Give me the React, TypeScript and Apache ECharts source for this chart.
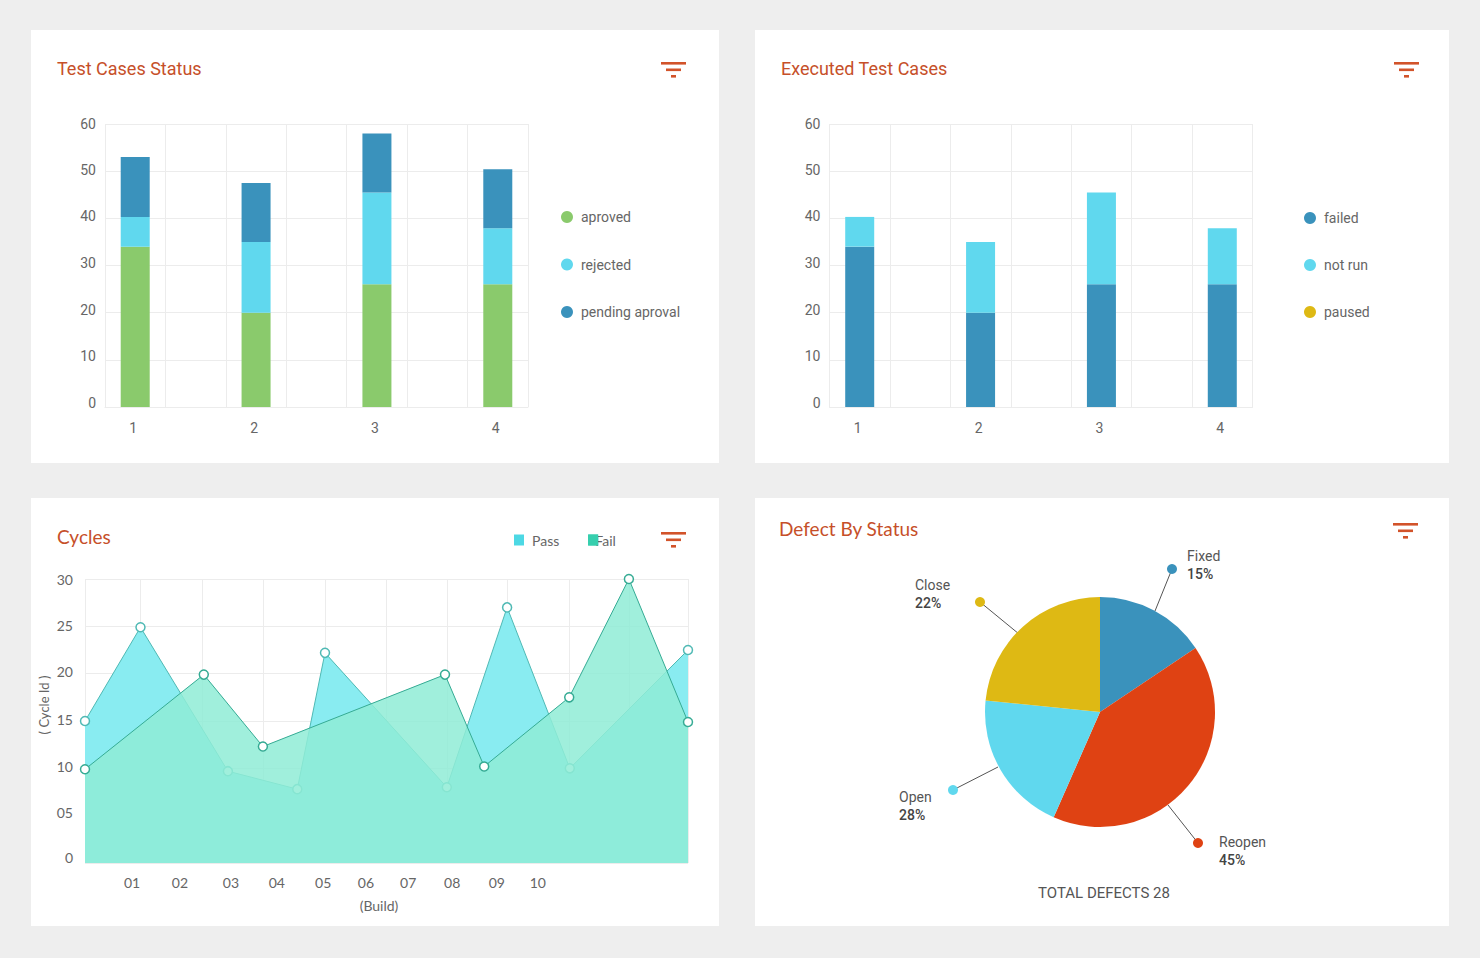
import React, { useEffect, useRef } from "react";
import * as echarts from "echarts";

const barCategories = ["1", "", "2", "", "3", "", "4"];
const approved = [34, 20, 26, 26];
const rejected = [6.3, 15, 19.5, 11.9];
const pendingApproval = [12.7, 12.5, 12.5, 12.5];
const failed = [34, 20, 26, 26];
const notRun = [6.3, 15, 19.5, 11.9];
const paused: number[] = [];

const passBuilds = [0, 0.92, 2.37, 3.52, 3.98, 6.0, 7.0, 8.04, 10];
const passCycles = [15, 24.9, 9.7, 7.8, 22.2, 8, 27, 10, 22.5];
const failBuilds = [0, 1.97, 2.95, 5.97, 6.62, 8.03, 9.02, 10];
const failCycles = [9.9, 19.9, 12.3, 19.9, 10.2, 17.5, 30, 14.9];
const buildLabels = ["01", "02", "03", "04", "05", "06", "07", "08", "09", "10"];

const defectNames = ["Fixed", "Reopen", "Open", "Close"];
const defectShares = [15.6, 41, 20, 23.4];
const defectLabels = ["15%", "45%", "28%", "22%"];

// Label and gridline placement along the axes (layout, not data)
const buildLabelPlaces = [0.78, 1.575, 2.42, 3.18, 3.95, 4.66, 5.36, 6.09, 6.83, 7.51];
const buildGridPlaces = [0, 0.92, 1.95, 2.96, 3.98, 5, 6, 7, 8.03, 9.03, 10];
const barYLabelPlaces = [0.85, 10.8, 20.6, 30.5, 40.5, 50.2, 60];
const cycleYLabelPlaces = [0.53, 5.3, 10.2, 15.2, 20.2, 25.1, 30];

const BLUE = "#3a92bc";
const CYAN = "#60d8ee";
const GREEN = "#8aca6c";
const YELLOW = "#deb914";
const RED = "#df4213";
const TITLE = "#c64f29";
const TEXT = "#666666";
const GRIDLINE = "#ececec";

const spaced = (values: number[]) =>
  values.flatMap((v, i) => (i ? [null, v] : [v]));
const pairs = (xs: number[], ys: number[]) => xs.map((x, i) => [x, ys[i]]);

const cards = [
  { left: 31, top: 30, width: 688, height: 433 },
  { left: 755, top: 30, width: 694, height: 433 },
  { left: 31, top: 498, width: 688, height: 428 },
  { left: 755, top: 498, width: 694, height: 428 },
];

const filterIcon = (x: number, y: number) => ({
  type: "group",
  x,
  y,
  children: [
    { type: "rect", shape: { x: 0, y: 0, width: 25, height: 2.6 }, style: { fill: "#d2532a" } },
    { type: "rect", shape: { x: 5, y: 6.5, width: 15, height: 2.6 }, style: { fill: "#d2532a" } },
    { type: "rect", shape: { x: 10, y: 13, width: 5, height: 2.6 }, style: { fill: "#d2532a" } },
  ],
});

const leader = (x1: number, y1: number, x2: number, y2: number, color: string) => [
  { type: "line", shape: { x1, y1, x2, y2 }, style: { stroke: "#555555", lineWidth: 1 } },
  { type: "circle", shape: { cx: x2, cy: y2, r: 5 }, style: { fill: color } },
];

const pieLabelPlaces = [
  { x: 1187, y: 565 },
  { x: 1219, y: 851 },
  { x: 899, y: 806 },
  { x: 915, y: 594 },
];

const barY = (gridIndex: number) => ({
  type: "value",
  gridIndex,
  min: 0,
  max: 60,
  interval: 10,
  axisLine: { show: false },
  axisTick: { show: false },
  axisLabel: {
    color: TEXT,
    fontFamily: "Roboto",
    fontSize: 14,
    margin: 9,
    customValues: barYLabelPlaces,
    formatter: (v: number) => String(Math.floor(v / 10) * 10),
  },
  splitLine: { lineStyle: { color: GRIDLINE } },
});
const barX = (gridIndex: number) => ({
  type: "category",
  gridIndex,
  data: barCategories,
  axisLine: { show: true, lineStyle: { color: GRIDLINE } },
  axisTick: { show: false },
  axisLabel: { color: TEXT, fontFamily: "Roboto", fontSize: 14, interval: 0, margin: 14, padding: [0, 4, 0, 0] },
  splitLine: { show: true, interval: 0, lineStyle: { color: GRIDLINE } },
});
const barSeries = (name: string, values: number[], color: string, idx: number, stack: string) => ({
  name,
  type: "bar",
  stack,
  xAxisIndex: idx,
  yAxisIndex: idx,
  barWidth: 29,
  data: spaced(values),
  itemStyle: { color },
});
const areaSeries = (name: string, data: number[][], line: string, fill: string, z: number) => ({
  name,
  type: "line",
  xAxisIndex: 2,
  yAxisIndex: 2,
  z,
  data,
  symbol: "circle",
  symbolSize: 9,
  showAllSymbol: true,
  clip: false,
  lineStyle: { color: line, width: 1 },
  itemStyle: { color: "#ffffff", borderColor: line, borderWidth: 1.5 },
  areaStyle: { color: fill, opacity: 1 },
});

const titleStyle = (family: string, size: number) => ({
  color: TITLE,
  fontFamily: family,
  fontSize: size,
  fontWeight: 400,
});

const option: any = {
  animation: false,
  backgroundColor: "transparent",
  title: [
    { text: "Test Cases Status", left: 57, top: 59, padding: 0, textStyle: titleStyle("Roboto", 18) },
    { text: "Executed Test Cases", left: 781, top: 59, padding: 0, textStyle: titleStyle("Roboto", 18) },
    { text: "Cycles", left: 57, top: 527, padding: 0, textStyle: titleStyle("Lato", 19) },
    { text: "Defect By Status", left: 779, top: 519, padding: 0, textStyle: titleStyle("Lato", 19) },
  ],
  legend: [
    {
      orient: "vertical", left: 561, top: 210, itemWidth: 14, itemHeight: 12, itemGap: 33.5, padding: 0, icon: "circle",
      data: ["aproved", "rejected", "pending aproval"],
      textStyle: { color: TEXT, fontFamily: "Roboto", fontSize: 14, padding: [0, 0, 0, 2] },
    },
    {
      orient: "vertical", left: 1304, top: 211, itemWidth: 14, itemHeight: 12, itemGap: 33, padding: 0, icon: "circle",
      data: ["failed", "not run", "paused"],
      textStyle: { color: TEXT, fontFamily: "Roboto", fontSize: 14, padding: [0, 0, 0, 2] },
    },
    {
      left: 514, top: 533, itemWidth: 10, itemHeight: 11, itemGap: 29, padding: 0, icon: "rect",
      data: [
        { name: "Pass", itemStyle: { color: "#4dd8e4", borderWidth: 0 }, textStyle: { padding: [0, 0, 0, 3] } },
        { name: "Fail", itemStyle: { color: "#36cfae", borderWidth: 0 }, textStyle: { padding: [0, 0, 0, -8] } },
      ],
      textStyle: { color: TEXT, fontFamily: "Lato", fontSize: 14 },
    },
  ],
  grid: [
    { left: 105, top: 124, width: 423, height: 283 },
    { left: 829.5, top: 124, width: 423, height: 283 },
    { left: 85, top: 579, width: 603, height: 284 },
  ],
  xAxis: [
    barX(0),
    barX(1),
    {
      type: "value",
      gridIndex: 2,
      min: 0,
      max: 10,
      interval: 1,
      axisLine: { show: false },
      axisTick: { show: false, customValues: buildGridPlaces },
      axisLabel: { show: false },
      splitLine: { lineStyle: { color: GRIDLINE } },
    },
    {
      type: "value",
      gridIndex: 2,
      position: "bottom",
      min: 0,
      max: 10,
      name: "(Build)",
      nameLocation: "middle",
      nameGap: 35,
      nameMoveOverlap: false,
      nameTextStyle: { color: TEXT, fontFamily: "Lato", fontSize: 14, padding: [0, 15, 0, 0] },
      axisLine: { show: false },
      axisTick: { show: false },
      splitLine: { show: false },
      axisLabel: {
        color: TEXT,
        fontFamily: "Lato",
        fontSize: 14,
        margin: 12,
        customValues: buildLabelPlaces,
        formatter: (v: number) => buildLabels[buildLabelPlaces.indexOf(v)],
      },
    },
  ],
  yAxis: [
    barY(0),
    barY(1),
    {
      type: "value",
      gridIndex: 2,
      min: 0,
      max: 30,
      interval: 5,
      name: "( Cycle Id )",
      nameLocation: "middle",
      nameGap: 35,
      nameMoveOverlap: false,
      nameRotate: 90,
      nameTextStyle: { color: TEXT, fontFamily: "Lato", fontSize: 13, padding: [0, 0, 0, 32] },
      axisLine: { show: false },
      axisTick: { show: false },
      axisLabel: {
        color: TEXT,
        fontFamily: "Lato",
        fontSize: 14,
        margin: 12,
        customValues: cycleYLabelPlaces,
        formatter: (v: number) => {
          const tick = Math.floor(v / 5) * 5;
          return tick === 0 ? "0" : String(tick).padStart(2, "0");
        },
      },
      splitLine: { lineStyle: { color: GRIDLINE } },
    },
  ],
  series: [
    barSeries("aproved", approved, GREEN, 0, "a"),
    barSeries("rejected", rejected, CYAN, 0, "a"),
    barSeries("pending aproval", pendingApproval, BLUE, 0, "a"),
    barSeries("failed", failed, BLUE, 1, "b"),
    barSeries("not run", notRun, CYAN, 1, "b"),
    barSeries("paused", paused, YELLOW, 1, "b"),
    areaSeries("Pass", pairs(passBuilds, passCycles), "#4fb9b4", "#89ecf1", 1),
    areaSeries("Fail", pairs(failBuilds, failCycles), "#35ab94", "rgba(143,236,214,0.85)", 2),
    {
      type: "pie",
      center: [1100, 712],
      radius: 115,
      startAngle: 90,
      silent: true,
      data: defectNames.map((name, i) => ({
        name,
        value: defectShares[i],
        itemStyle: { color: [BLUE, RED, CYAN, YELLOW][i] },
      })),
      label: {
        show: true,
        formatter: (p: any) => `{a|${p.name}}\n{b|${defectLabels[p.dataIndex]}}`,
        rich: {
          a: { color: "#555555", fontFamily: "Roboto", fontSize: 14, lineHeight: 18 },
          b: { color: "#444444", fontFamily: "Roboto", fontSize: 14, fontWeight: 500, lineHeight: 18 },
        },
      },
      labelLine: { show: false },
      labelLayout: (p: any) => ({
        x: pieLabelPlaces[p.dataIndex].x,
        y: pieLabelPlaces[p.dataIndex].y,
        align: "left",
        verticalAlign: "middle",
      }),
    },
  ],
  graphic: [
    filterIcon(661, 62),
    filterIcon(1394, 62),
    filterIcon(661, 532),
    filterIcon(1393, 523),
    ...leader(1155, 611, 1172, 569, BLUE),
    ...leader(1168, 805, 1198, 843, RED),
    ...leader(998, 767, 953, 790, CYAN),
    ...leader(1019, 634, 980, 602, YELLOW),
    {
      type: "rect",
      shape: { x: 588, y: 534.5, width: 10, height: 11 },
      style: { fill: "#36cfae" },
      z: 100,
    },
    {
      type: "text",
      x: 1104,
      y: 893,
      style: {
        text: "TOTAL DEFECTS 28",
        fill: "#555555",
        font: '400 15px Roboto',
        textAlign: "center",
        textVerticalAlign: "middle",
      },
    },
  ],
};

export default function App() {
  const ref = useRef<HTMLDivElement>(null);
  useEffect(() => {
    document.body.style.margin = "0";
    const chart = echarts.init(ref.current!, undefined, { renderer: "svg" });
    chart.setOption(option);
    return () => chart.dispose();
  }, []);
  return (
    <div style={{ position: "fixed", left: 0, top: 0, width: 1480, height: 958, background: "#eeeeee", overflow: "hidden" }}>
      {cards.map((c, i) => (
        <div key={i} style={{ position: "absolute", background: "#ffffff", ...c }} />
      ))}
      <div ref={ref} style={{ position: "absolute", left: 0, top: 0, width: 1480, height: 958 }} />
    </div>
  );
}
